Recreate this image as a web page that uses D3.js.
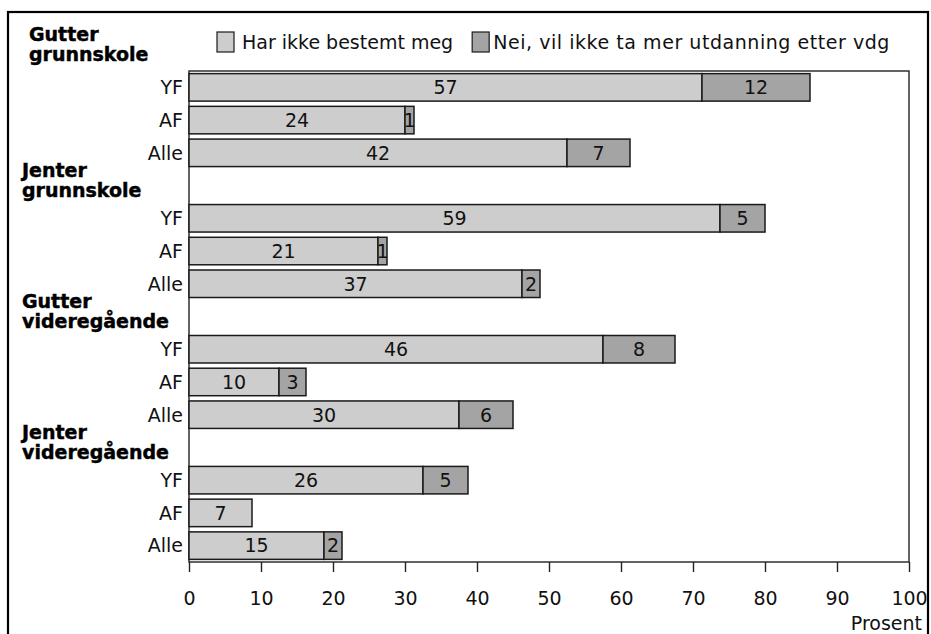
<!DOCTYPE html>
<html>
<head>
<meta charset="utf-8">
<script src="https://cdn.jsdelivr.net/npm/d3@7"></script>
<style>
  body { margin: 0; background: #fff; }
  svg { display: block; font-family: "DejaVu Sans", sans-serif; }
</style>
</head>
<body>
<svg id="chart" width="931" height="634"></svg>
<script>
// data
var groupNames = [["Gutter", "grunnskole"], ["Jenter", "grunnskole"], ["Gutter", "videregående"], ["Jenter", "videregående"]]
var categories = ["YF", "AF", "Alle"]
var seriesNames = ["Har ikke bestemt meg", "Nei, vil ikke ta mer utdanning etter vdg"]
var undecided = [57, 24, 42, 59, 21, 37, 46, 10, 30, 26, 7, 15]
var noMore = [12, 1, 7, 5, 1, 2, 8, 3, 6, 5, 0, 2]
var tickValues = [0, 10, 20, 30, 40, 50, 60, 70, 80, 90, 100]
var axisTitle = "Prosent"

var colors = ["#cdcdcd", "#a4a4a4"]
var plotLeft = 189, plotRight = 909, plotTop = 71, plotBottom = 562

var svg = d3.select('#chart')

// outer frame
svg.append('rect')
    .attr('x', 8).attr('y', 12)
    .attr('width', 920).attr('height', 700)
    .attr('fill', 'none')
    .attr('stroke', '#000')
    .attr('stroke-width', 2.2)

// axis runs 0-100, but the bars in the original are drawn on a 0-80 stretch
var xAxisScale = d3.scaleLinear().domain([0, 100]).range([plotLeft, plotRight])
var x = d3.scaleLinear().domain([0, 80]).range([plotLeft, plotRight])

// 15 rows: 3 bars per group with an empty row holding the group title between groups
var y = d3.scaleBand()
    .domain(d3.range(15))
    .range([plotTop, plotBottom])
    .paddingInner(0.16)
    .paddingOuter(0.08)
var bw = y.bandwidth()

var rows = []
undecided.forEach(function(v, i) {
    var g = Math.floor(i / 3), c = i % 3
    rows.push({ g: g, c: c, slot: g * 4 + c, a: v, b: noMore[i] })
})

// plot frame
svg.append('rect')
    .attr('x', plotLeft).attr('y', plotTop)
    .attr('width', plotRight - plotLeft).attr('height', plotBottom - plotTop)
    .attr('fill', 'none')
    .attr('stroke', '#222')
    .attr('stroke-width', 1.4)

var bars = svg.append('g')
rows.forEach(function(r) {
    var yy = y(r.slot)
    bars.append('rect')
        .attr('x', x(0)).attr('y', yy)
        .attr('width', x(r.a) - x(0)).attr('height', bw)
        .attr('fill', colors[0])
        .attr('stroke', '#1a1a1a').attr('stroke-width', 1.5)
    bars.append('text')
        .attr('x', (x(0) + x(r.a)) / 2).attr('y', yy + bw / 2)
        .attr('dy', '0.36em')
        .attr('text-anchor', 'middle')
        .attr('font-size', 19)
        .attr('fill', '#111')
        .text(r.a)
    if (r.b > 0) {
        bars.append('rect')
            .attr('x', x(r.a)).attr('y', yy)
            .attr('width', x(r.a + r.b) - x(r.a)).attr('height', bw)
            .attr('fill', colors[1])
            .attr('stroke', '#1a1a1a').attr('stroke-width', 1.5)
        bars.append('text')
            .attr('x', (x(r.a) + x(r.a + r.b)) / 2).attr('y', yy + bw / 2)
            .attr('dy', '0.36em')
            .attr('text-anchor', 'middle')
            .attr('font-size', 19)
            .attr('fill', '#111')
            .text(r.b)
    }
    // category label
    svg.append('text')
        .attr('x', 183).attr('y', yy + bw / 2)
        .attr('dy', '0.36em')
        .attr('text-anchor', 'end')
        .attr('font-size', 19)
        .attr('fill', '#111')
        .text(categories[r.c])
})

// group titles
groupNames.forEach(function(lines, g) {
    var c0 = y(g * 4) + bw / 2
    var shift = g == 0 ? -5 : 0
    var t = svg.append('text')
        .attr('font-size', 19)
        .attr('font-weight', 'bold')
        .attr('fill', '#000')
        .attr('stroke', '#000')
        .attr('stroke-width', 0.45)
    lines.forEach(function(s, k) {
        t.append('tspan')
            .attr('x', g == 0 ? 29 : 22)
            .attr('y', c0 - 41 + k * 20 + shift)
            .text(s)
    })
})

// x axis
var axis = svg.append('g')
    .attr('transform', 'translate(0,' + plotBottom + ')')
    .call(d3.axisBottom(xAxisScale).tickValues(tickValues).tickSize(10).tickPadding(19.5))
axis.select('.domain').remove()
axis.selectAll('.tick line').attr('stroke', '#222').attr('stroke-width', 1.4)
axis.selectAll('.tick text')
    .attr('font-family', 'DejaVu Sans, sans-serif')
    .attr('font-size', 19)
    .attr('fill', '#111')

svg.append('text')
    .attr('x', 922).attr('y', 630)
    .attr('text-anchor', 'end')
    .attr('font-size', 19)
    .attr('fill', '#111')
    .text(axisTitle)

// legend
var legend = svg.append('g')
var lx = 217
seriesNames.forEach(function(s, i) {
    legend.append('rect')
        .attr('x', lx).attr('y', 32)
        .attr('width', 17).attr('height', 20)
        .attr('fill', colors[i])
        .attr('stroke', '#1a1a1a').attr('stroke-width', 1.2)
    var t = legend.append('text')
        .attr('x', lx + 25 - i * 4).attr('y', 49)
        .attr('font-size', 19)
        .attr('letter-spacing', i == 1 ? 0.55 : 0)
        .attr('fill', '#111')
        .text(s)
    lx = lx + 25 - i * 4 + t.node().getComputedTextLength() + 19
})
</script>
</body>
</html>
